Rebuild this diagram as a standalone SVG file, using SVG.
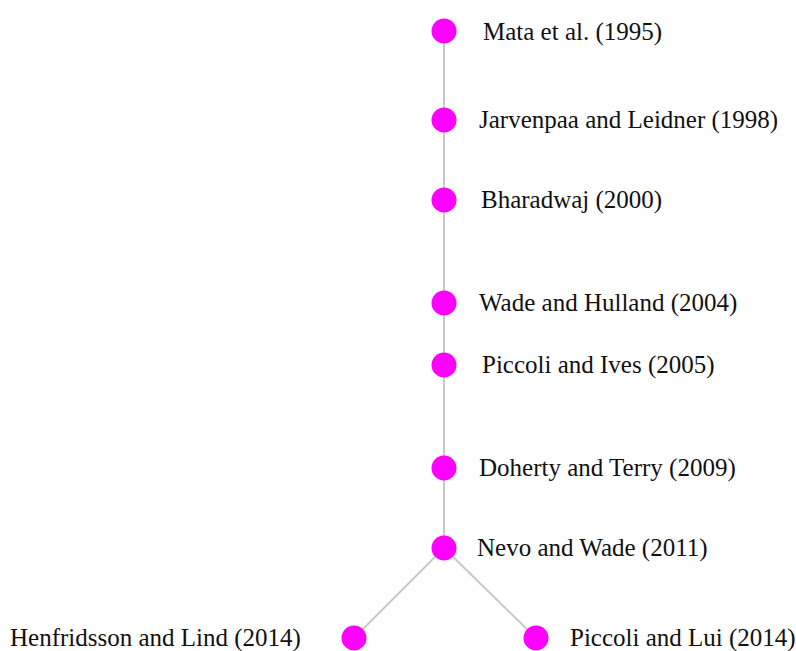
<svg xmlns="http://www.w3.org/2000/svg" width="796" height="651" viewBox="0 0 796 651">
<style>
.n{fill:#ff00ff}
.t{font-family:"Liberation Serif","Times New Roman",serif;font-size:25px;fill:#111}
.e{stroke:#c8c8c8;stroke-width:2;fill:none}
</style>
<rect width="796" height="651" fill="#fff"/>
<g id="edges">
<line class="e" x1="444" y1="31" x2="444" y2="548"/>
<line class="e" x1="444" y1="548" x2="354" y2="638"/>
<line class="e" x1="444" y1="548" x2="536" y2="638"/>
</g>
<g id="n1"><circle class="n" cx="444" cy="31" r="12.5"/><text class="t" x="483" y="40">Mata et al. (1995)</text></g>
<g id="n2"><circle class="n" cx="444" cy="120" r="12.5"/><text class="t" x="479" y="128">Jarvenpaa and Leidner (1998)</text></g>
<g id="n3"><circle class="n" cx="444" cy="200" r="12.5"/><text class="t" x="481" y="208">Bharadwaj (2000)</text></g>
<g id="n4"><circle class="n" cx="444" cy="303" r="12.5"/><text class="t" x="479" y="311">Wade and Hulland (2004)</text></g>
<g id="n5"><circle class="n" cx="444" cy="365" r="12.5"/><text class="t" x="482" y="373">Piccoli and Ives (2005)</text></g>
<g id="n6"><circle class="n" cx="444" cy="468" r="12.5"/><text class="t" x="479" y="476">Doherty and Terry (2009)</text></g>
<g id="n7"><circle class="n" cx="444" cy="548" r="12.5"/><text class="t" x="477" y="556">Nevo and Wade (2011)</text></g>
<g id="n8"><circle class="n" cx="354" cy="638" r="12.5"/><text class="t" x="10" y="646">Henfridsson and Lind (2014)</text></g>
<g id="n9"><circle class="n" cx="536" cy="638" r="12.5"/><text class="t" x="570" y="646">Piccoli and Lui (2014)</text></g>
</svg>
